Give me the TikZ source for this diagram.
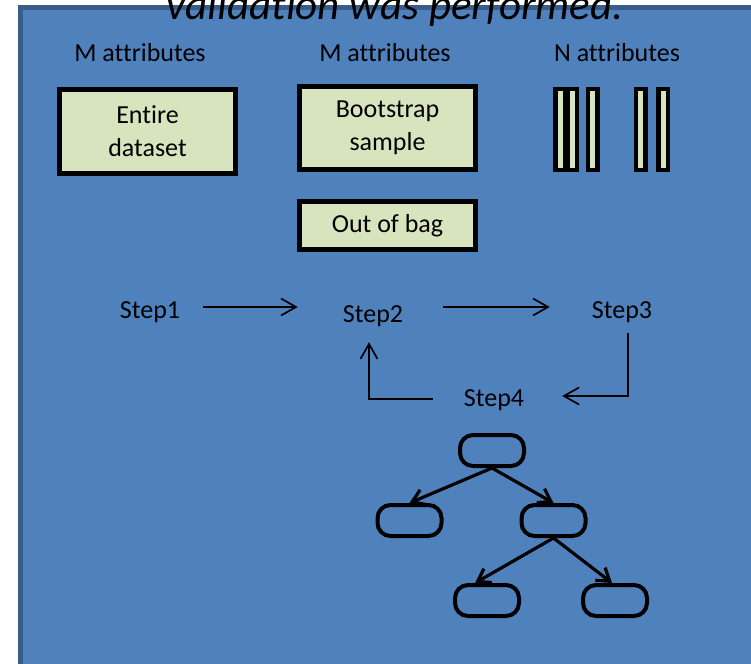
\documentclass[tikz,border=0pt]{standalone}
\usepackage{fontspec}
\setmainfont{Carlito}[Ligatures=NoCommon]
\usetikzlibrary{arrows.meta,positioning,calc}
\definecolor{panelblue}{HTML}{4F81BD}
\definecolor{paneledge}{HTML}{385D8A}
\definecolor{boxgreen}{HTML}{D7E4BD}
\tikzset{
  dblock/.style={rectangle, draw=black, line width=5pt, fill=boxgreen, align=center, font=\fontsize{26}{33}\selectfont, inner sep=0pt, minimum width=176pt},
  attrbar/.style={rectangle, draw=black, line width=4.5pt, fill=boxgreen, minimum width=9.5pt, minimum height=80.5pt, inner sep=0pt},
  tnode/.style={rectangle, rounded corners=13pt, draw=black, line width=4pt, minimum width=64pt, minimum height=31pt, inner sep=0pt},
  steplbl/.style={font=\fontsize{26}{30}\selectfont, inner sep=0pt, text height=17pt, text depth=5pt},
  lbl/.style={font=\fontsize{26}{30}\selectfont, inner sep=0pt, anchor=base},
  parrow/.style={-{Straight Barb[length=15pt, width=17pt]}, line width=1.7pt, black},
  tarrow/.style={-{Straight Barb[length=12pt, width=16pt]}, line width=3.2pt, black}
}

\begin{document}
\begin{tikzpicture}[x=1pt, y=-1pt]
  \useasboundingbox (0,0) rectangle (751,663);
  \clip (0,0) rectangle (751,663);
  \fill[panelblue] (20.5,7.5) rectangle (780,690);
  \draw[paneledge, line width=5pt] (20.5,7.5) rectangle (780,690);

  \node[lbl, font=\fontsize{43}{50}\selectfont\itshape] (title) at (395,20) {validation was performed.};

  \node[lbl] (attrA) at (140,62) {M attributes};
  \node[lbl] (attrB) at (385,62) {M attributes};
  \node[lbl] (attrC) at (617,62) {N attributes};

  \node[dblock, minimum height=84pt] (whole) at (147.5,131.5) {Entire\\dataset};
  \node[dblock, minimum height=83pt] (boot) at (387.5,128) {Bootstrap\\sample};
  \node[dblock, minimum height=48pt] (oob) at (387.5,225.5) {Out of bag};

  \foreach \bx [count=\i] in {560,572,592.5,640.5,663}
    \node[attrbar] (bar\i) at (\bx,129.5) {};

  \node[steplbl] (s1) at (150,312) {Step1};
  \node[steplbl] (s2) at (373,316) {Step2};
  \node[steplbl] (s3) at (622,312) {Step3};
  \node[steplbl] (s4) at (494,400) {Step4};

  \draw[parrow] ([xshift=23pt,yshift=5pt]s1.east) -- ([xshift=-45pt,yshift=9pt]s2.west);
  \draw[parrow] ([xshift=40pt,yshift=9pt]s2.east) -- ([xshift=-42pt,yshift=5pt]s3.west);
  \draw[parrow] ([xshift=6pt,yshift=-10pt]s3.south) |- ([xshift=38pt,yshift=4pt]s4.east);
  \draw[parrow] ([xshift=-31pt,yshift=1pt]s4.west) -| ([xshift=-4pt,yshift=-15pt]s2.south);

  \node[tnode] (root) at (492,450.5) {};
  \node[tnode] (left) at (409.5,520.5) {};
  \node[tnode] (right) at (553.5,520.5) {};
  \node[tnode] (rleft) at (487,600.5) {};
  \node[tnode] (rright) at (615,600.5) {};

  \draw[tarrow] (root.south) -- (left.north);
  \draw[tarrow] (root.south) -- (right.north);
  \draw[tarrow] (right.south) -- ([xshift=-12pt]rleft.north);
  \draw[tarrow] (right.south) -- ([xshift=-3pt]rright.north);
\end{tikzpicture}
\end{document}
